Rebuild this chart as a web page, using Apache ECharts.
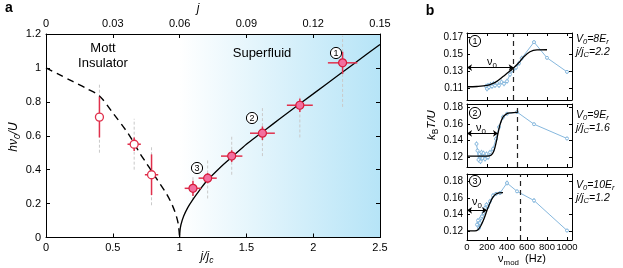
<!DOCTYPE html>
<html><head><meta charset="utf-8">
<script src="https://cdn.jsdelivr.net/npm/echarts@6/dist/echarts.min.js"></script>
<style>html,body{margin:0;padding:0;background:#fff}#c{width:623px;height:268px}</style>
</head><body><div id="c"></div>
<script>
// ---------- Panel a data ----------
const ratioTicks = [0, 0.5, 1, 1.5, 2, 2.5];
const jTicks = [0, 0.03, 0.06, 0.09, 0.12, 0.15];
const gapTicks = [0, 0.2, 0.4, 0.6, 0.8, 1, 1.2];

const mottX = [0.40, 0.66, 0.79];
const mottY = [0.71, 0.55, 0.37];
const mottXErr = [0, 0.05, 0.05];
const mottYErr = [0.12, 0.04, 0.12];
const mottSpreadLo = [0.50, 0.40, 0.19];
const mottSpreadHi = [0.91, 0.70, 0.54];

const sfX = [1.10, 1.21, 1.39, 1.62, 1.90, 2.22];
const sfY = [0.29, 0.35, 0.48, 0.615, 0.78, 1.03];
const sfXErr = [0.062, 0.068, 0.08, 0.093, 0.097, 0.11];
const sfYErr = [0.045, 0.03, 0.035, 0.04, 0.04, 0.065];
const sfSpreadLo = [0.22, 0.23, 0.37, 0.48, 0.59, 0.77];
const sfSpreadHi = [0.36, 0.46, 0.60, 0.77, 0.83, 1.19];

const mottBoundX = [0, 0.1, 0.2, 0.3, 0.4, 0.5, 0.6, 0.645, 0.7, 0.75, 0.8, 0.85, 0.9, 0.94, 0.97, 0.99, 1.0];
const mottBoundY = [1, 0.96, 0.92, 0.88, 0.835, 0.735, 0.63, 0.575, 0.5, 0.44, 0.38, 0.32, 0.26, 0.2, 0.14, 0.08, 0];

const sfBoundX = [1, 1.003, 1.01, 1.03, 1.06, 1.1, 1.15, 1.2, 1.3, 1.4, 1.5, 1.6, 1.7, 1.8, 2.0, 2.2, 2.4, 2.5];
const sfBoundY = [0, 0.04, 0.075, 0.125, 0.175, 0.225, 0.28, 0.33, 0.41, 0.48, 0.55, 0.61, 0.67, 0.73, 0.847, 0.964, 1.08, 1.138];

const superfluidRegion = [1, 2.5];

// ---------- Panel b data ----------
const vTicks = [0, 200, 400, 600, 800, 1000];
const tTicks1 = [0.11, 0.13, 0.15, 0.17];
const tTicks2 = [0.12, 0.14, 0.16, 0.18];
const tTicks3 = [0.12, 0.14, 0.16, 0.18];

const b1V = [190, 200, 210, 220, 235, 250, 265, 280, 300, 320, 345, 370, 400, 430, 460, 490, 520, 547, 670, 800, 1000];
const b1T = [0.112, 0.109, 0.113, 0.111, 0.114, 0.112, 0.115, 0.113, 0.116, 0.113, 0.117, 0.115, 0.118, 0.126, 0.131, 0.134, 0.139, 0.145, 0.164, 0.1455, 0.129];
const b1Err = [0.003, 0.003, 0.003, 0.003, 0.003, 0.003, 0.003, 0.003, 0.003, 0.003, 0.003, 0.003, 0.003, 0.003, 0.003, 0.003, 0.003, 0.003, 0.002, 0.002, 0.002];
const fit1V = [0, 100, 200, 260, 300, 360, 420, 467, 520, 563, 630, 700, 800];
const fit1T = [0.1115, 0.1118, 0.113, 0.1155, 0.118, 0.1235, 0.129, 0.134, 0.140, 0.1462, 0.1526, 0.1548, 0.155];
const nu0_1 = 467;
const arrow1 = [467, 0.134];

const b2V = [95, 105, 115, 125, 135, 145, 155, 165, 180, 195, 210, 230, 260, 290, 320, 360, 400, 500, 670, 1000];
const b2T = [0.136, 0.128, 0.117, 0.124, 0.115, 0.126, 0.119, 0.125, 0.118, 0.124, 0.120, 0.126, 0.130, 0.142, 0.156, 0.168, 0.172, 0.174, 0.1595, 0.1425];
const b2Err = [0.003, 0.003, 0.003, 0.003, 0.003, 0.003, 0.003, 0.003, 0.003, 0.003, 0.003, 0.003, 0.003, 0.003, 0.003, 0.003, 0.002, 0.002, 0.002, 0.002];
const fit2V = [0, 200, 240, 270, 290, 310, 330, 360, 400, 440, 503];
const fit2T = [0.1215, 0.1215, 0.1225, 0.128, 0.137, 0.1485, 0.159, 0.168, 0.1722, 0.173, 0.1735];
const nu0_2 = 503;
const arrow2 = [310, 0.1485];

const b3V = [100, 110, 120, 130, 140, 150, 165, 180, 195, 210, 230, 260, 290, 330, 400, 500, 670, 1000];
const b3T = [0.128, 0.133, 0.124, 0.130, 0.136, 0.138, 0.142, 0.148, 0.152, 0.150, 0.156, 0.163, 0.165, 0.166, 0.178, 0.168, 0.157, 0.121];
const b3Err = [0.003, 0.003, 0.003, 0.003, 0.003, 0.003, 0.003, 0.003, 0.003, 0.003, 0.003, 0.003, 0.002, 0.002, 0.003, 0.002, 0.003, 0.002];
const fit3V = [0, 80, 110, 140, 170, 200, 230, 260, 290, 320, 360];
const fit3T = [0.1205, 0.1205, 0.122, 0.127, 0.135, 0.1452, 0.154, 0.161, 0.1648, 0.1662, 0.1665];
const nu0_3 = 537;
const arrow3 = [200, 0.1452];

// ---------- styling ----------
const FONT = '"Liberation Sans", Arial, Helvetica, sans-serif';
const RED = '#e0304c';
const PINK = '#f36f9f';
const BLUE = '#86b8de';

function merge(a, b) {
  const o = Array.isArray(a) ? a.slice() : Object.assign({}, a);
  for (const k in b) {
    if (b[k] && typeof b[k] === 'object' && !Array.isArray(b[k]) && typeof a[k] === 'object' && a[k] && !Array.isArray(a[k])) o[k] = merge(a[k], b[k]);
    else o[k] = b[k];
  }
  return o;
}
function axis(extra, tickLen) {
  const base = {
    type: 'value',
    axisLine: {show: true, onZero: false, lineStyle: {color: '#000', width: 1}},
    splitLine: {show: false},
    axisTick: {show: true, inside: true, length: tickLen || 4, lineStyle: {color: '#000', width: 1}},
    axisLabel: {color: '#000', fontFamily: FONT, fontSize: 11, margin: 5, hideOverlap: false, showMinLabel: true, showMaxLabel: true}
  };
  return merge(base, extra);
}
const fmt2 = v => (v === 0 ? '0' : v.toFixed(2));
const fmtInt = v => String(Math.round(v));

const xAxes = [
  axis({gridIndex: 0, position: 'bottom', min: 0, max: 2.5, axisTick: {customValues: ratioTicks}, axisLabel: {customValues: ratioTicks}}),
  axis({gridIndex: 0, position: 'top', min: 0, max: 0.15, axisTick: {customValues: jTicks}, axisLabel: {customValues: jTicks, formatter: fmt2}})
];
const yAxes = [
  axis({gridIndex: 0, position: 'left', min: 0, max: 1.2, axisTick: {customValues: gapTicks}, axisLabel: {customValues: gapTicks}}),
  axis({gridIndex: 0, position: 'right', min: 0, max: 1.2, axisTick: {customValues: gapTicks}, axisLabel: {show: false}})
];
const bRanges = [[0.0959, 0.1747, tTicks1], [0.1085, 0.1836, tTicks2], [0.1096, 0.1888, tTicks3]];
bRanges.forEach((r, k) => {
  const gi = k + 1;
  xAxes.push(axis({gridIndex: gi, position: 'bottom', min: 0, max: 1050, axisTick: {customValues: vTicks},
    axisLabel: {show: k === 2, customValues: vTicks, formatter: fmtInt, fontSize: 9.5, margin: 2}}, 3));
  xAxes.push(axis({gridIndex: gi, position: 'top', min: 0, max: 1050, axisTick: {customValues: vTicks}, axisLabel: {show: false}}, 3));
  yAxes.push(axis({gridIndex: gi, position: 'left', min: r[0], max: r[1], axisTick: {customValues: r[2]},
    axisLabel: {customValues: r[2], formatter: fmt2, fontSize: 10, margin: 4}}, 3));
  yAxes.push(axis({gridIndex: gi, position: 'right', min: r[0], max: r[1], axisTick: {customValues: r[2]}, axisLabel: {show: false}}, 3));
});

function errBars(xs, ys, exs, eys, color, width, xi, yi, z) {
  return {
    type: 'custom', xAxisIndex: xi, yAxisIndex: yi, silent: true, z: z || 4,
    data: xs.map((x, i) => [x, ys[i], exs[i], eys[i]]),
    renderItem: (p, api) => {
      const x = api.value(0), y = api.value(1), ex = api.value(2), ey = api.value(3);
      const l = api.coord([x - ex, y]), r = api.coord([x + ex, y]);
      const t = api.coord([x, y + ey]), b = api.coord([x, y - ey]);
      const st = {stroke: color, lineWidth: width};
      const ch = [{type: 'line', shape: {x1: t[0], y1: t[1], x2: b[0], y2: b[1]}, style: st}];
      if (ex > 0) ch.push({type: 'line', shape: {x1: l[0], y1: l[1], x2: r[0], y2: r[1]}, style: st});
      return {type: 'group', children: ch};
    }
  };
}
function spread(xs, lo, hi) {
  return {
    type: 'custom', xAxisIndex: 0, yAxisIndex: 0, silent: true, z: 2,
    data: xs.map((x, i) => [x, lo[i], hi[i]]),
    renderItem: (p, api) => {
      const a = api.coord([api.value(0), api.value(1)]), b = api.coord([api.value(0), api.value(2)]);
      return {type: 'line', shape: {x1: a[0], y1: a[1], x2: b[0], y2: b[1]}, style: {stroke: '#c9c9c9', lineWidth: 1, lineDash: [3, 2]}};
    }
  };
}
const zip = (a, b) => a.map((v, i) => [v, b[i]]);

const series = [
  { // superfluid background
    type: 'custom', xAxisIndex: 0, yAxisIndex: 0, silent: true, z: 0,
    data: [[superfluidRegion[0], 0, superfluidRegion[1], 1.2]],
    renderItem: (p, api) => {
      const a = api.coord([api.value(0), api.value(3)]), b = api.coord([api.value(2), api.value(1)]);
      return {type: 'rect', shape: {x: a[0], y: a[1], width: b[0] - a[0], height: b[1] - a[1]},
        style: {fill: new echarts.graphic.LinearGradient(0, 0, 1, 0, [{offset: 0, color: '#ffffff'}, {offset: 1, color: '#b6e4f7'}])}};
    }
  },
  spread(mottX, mottSpreadLo, mottSpreadHi),
  spread(sfX, sfSpreadLo, sfSpreadHi),
  {type: 'line', xAxisIndex: 0, yAxisIndex: 0, data: zip(mottBoundX, mottBoundY), smooth: 0.3, symbol: 'none', silent: true, z: 3,
    lineStyle: {color: '#000', width: 1.4, type: [7, 5]}},
  {type: 'line', xAxisIndex: 0, yAxisIndex: 0, data: zip(sfBoundX, sfBoundY), smooth: 0.3, symbol: 'none', silent: true, z: 3,
    lineStyle: {color: '#000', width: 1.3}},
  errBars(mottX, mottY, mottXErr, mottYErr, RED, 1.5, 0, 0),
  errBars(sfX, sfY, sfXErr, sfYErr, RED, 1.5, 0, 0),
  {type: 'scatter', xAxisIndex: 0, yAxisIndex: 0, data: zip(mottX, mottY), symbol: 'circle', symbolSize: 8, z: 5, silent: true,
    itemStyle: {color: '#ffffff', borderColor: RED, borderWidth: 1.3, opacity: 1}},
  {type: 'scatter', xAxisIndex: 0, yAxisIndex: 0, data: zip(sfX, sfY), symbol: 'circle', symbolSize: 8, z: 5, silent: true,
    itemStyle: {color: PINK, borderColor: '#d41c3c', borderWidth: 1.2, opacity: 1}}
];

const bPlots = [
  [b1V, b1T, b1Err, fit1V, fit1T, nu0_1, arrow1],
  [b2V, b2T, b2Err, fit2V, fit2T, nu0_2, arrow2],
  [b3V, b3T, b3Err, fit3V, fit3T, nu0_3, arrow3]
];
bPlots.forEach((pl, k) => {
  const xi = 2 + 2 * k, yi = 2 + 2 * k;
  const [vs, ts, es, fv, ft, nu, arr] = pl;
  series.push(errBars(vs, ts, vs.map(() => 0), es, BLUE, 1, xi, yi, 3));
  series.push({type: 'line', xAxisIndex: xi, yAxisIndex: yi, data: zip(vs, ts), symbol: 'circle', symbolSize: 3, silent: true, z: 3,
    lineStyle: {color: BLUE, width: 1}, itemStyle: {color: '#ffffff', borderColor: BLUE, borderWidth: 1},
    markLine: {silent: true, symbol: 'none', label: {show: false}, animation: false,
      lineStyle: {color: '#222', width: 1.2, type: [5, 4]}, data: [{xAxis: nu}]}});
  series.push({type: 'line', xAxisIndex: xi, yAxisIndex: yi, data: zip(fv, ft), smooth: 0.35, symbol: 'none', silent: true, z: 4,
    lineStyle: {color: '#000', width: 1.3},
    markLine: {silent: true, symbol: ['arrow', 'arrow'], symbolSize: 5, label: {show: false}, animation: false,
      lineStyle: {color: '#000', width: 1, type: 'solid'},
      data: [[{coord: [0, arr[1]]}, {coord: [arr[0], arr[1]]}]]}});
});

// ---------- annotations ----------
function txt(x, y, text, o) {
  return {type: 'text', x: x, y: y, silent: true, z: 100, rotation: (o && o.rotation) || 0,
    style: Object.assign({text: text, fontFamily: FONT, fontSize: 11, fill: '#000',
      align: 'center', verticalAlign: 'middle', textAlign: 'center', textVerticalAlign: 'middle'}, (o && o.style) || {})};
}
function rich(size, italic) {
  const st = italic ? 'italic' : 'normal';
  return {
    i: {fontFamily: FONT, fontSize: size, fontStyle: 'italic', lineHeight: size + 4, verticalAlign: 'middle'},
    n: {fontFamily: FONT, fontSize: size, fontStyle: 'normal', lineHeight: size + 4, verticalAlign: 'middle'},
    s: {fontFamily: FONT, fontSize: size * 0.72, fontStyle: st, lineHeight: size * 0.72 + 1, verticalAlign: 'bottom'},
    su: {fontFamily: FONT, fontSize: size * 0.72, fontStyle: 'normal', lineHeight: size * 0.72 + 1, verticalAlign: 'bottom'}
  };
}
function circled(x, y, n) {
  return [
    {type: 'circle', shape: {cx: x, cy: y, r: 5.6}, style: {fill: '#ffffff', stroke: '#000', lineWidth: 1}, z: 100, silent: true},
    txt(x, y + 0.5, String(n), {style: {fontSize: 9}})
  ];
}
const graphics = [
  txt(9, 8, 'a', {style: {fontSize: 14, fontWeight: 'bold'}}),
  txt(430, 11, 'b', {style: {fontSize: 14, fontWeight: 'bold'}}),
  txt(198, 9, 'j', {style: {fontSize: 12, fontStyle: 'italic'}}),
  txt(103, 48, 'Mott', {style: {fontSize: 13}}),
  txt(103, 63, 'Insulator', {style: {fontSize: 13}}),
  txt(262, 53, 'Superfluid', {style: {fontSize: 13}}),
  txt(14, 137, '{i|hν}{s|0}{i|/U}', {rotation: Math.PI / 2, style: {rich: rich(12, true)}}),
  txt(207, 257, '{i|j/j}{s|c}', {style: {rich: rich(12, true)}}),
  txt(432, 125, '{i|k}{su|B}{i|T/U}', {rotation: Math.PI / 2, style: {rich: rich(11.5, true)}}),
  txt(522, 259, '{n|ν}{su|mod}{n|  (Hz)}', {style: {rich: rich(11, false)}}),
  txt(492, 62, '{n|ν}{su|0}', {style: {rich: rich(11, false)}}),
  txt(481, 128, '{n|ν}{su|0}', {style: {rich: rich(11, false)}}),
  txt(477, 202, '{n|ν}{su|0}', {style: {rich: rich(11, false)}}),
  txt(576, 39, '{i|V}{s|0}{i|=8E}{s|r}', {style: {align: 'left', textAlign: 'left', rich: rich(10.5, true)}}),
  txt(576, 52, '{i|j/j}{s|C}{i|=2.2}', {style: {align: 'left', textAlign: 'left', rich: rich(10.5, true)}}),
  txt(576, 115, '{i|V}{s|0}{i|=9E}{s|r}', {style: {align: 'left', textAlign: 'left', rich: rich(10.5, true)}}),
  txt(576, 128, '{i|j/j}{s|C}{i|=1.6}', {style: {align: 'left', textAlign: 'left', rich: rich(10.5, true)}}),
  txt(576, 185, '{i|V}{s|0}{i|=10E}{s|r}', {style: {align: 'left', textAlign: 'left', rich: rich(10.5, true)}}),
  txt(576, 198, '{i|j/j}{s|C}{i|=1.2}', {style: {align: 'left', textAlign: 'left', rich: rich(10.5, true)}})
].concat(circled(336, 53, 1), circled(252, 118, 2), circled(197, 168, 3),
         circled(475, 41, 1), circled(475, 113, 2), circled(475, 181, 3));

const chart = echarts.init(document.getElementById('c'), null, {renderer: 'canvas'});
chart.setOption({
  animation: false,
  backgroundColor: '#ffffff',
  textStyle: {fontFamily: FONT},
  grid: [
    {left: 46, top: 34, width: 334, height: 203.5, containLabel: false, outerBoundsMode: 'none'},
    {left: 467, top: 33, width: 105, height: 67, containLabel: false, outerBoundsMode: 'none'},
    {left: 467, top: 104, width: 105, height: 63, containLabel: false, outerBoundsMode: 'none'},
    {left: 467, top: 174, width: 105, height: 66, containLabel: false, outerBoundsMode: 'none'}
  ],
  xAxis: xAxes,
  yAxis: yAxes,
  series: series,
  graphic: graphics
});
</script></body></html>
